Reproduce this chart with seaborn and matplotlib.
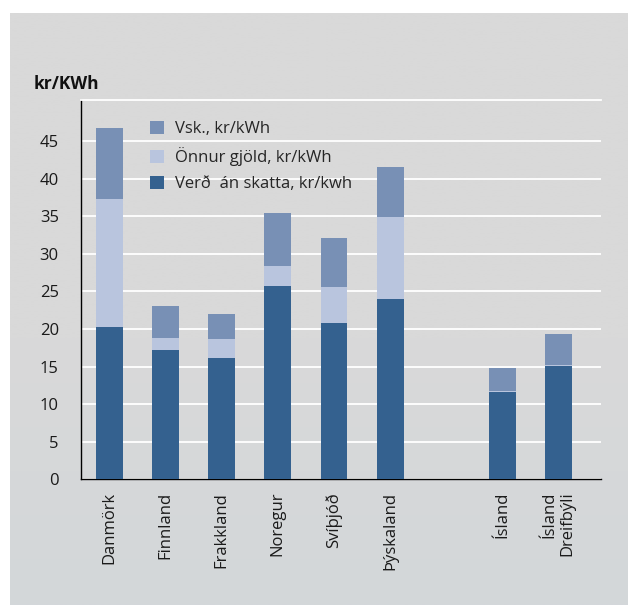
import numpy as np
import pandas as pd
import matplotlib
matplotlib.use("Agg")
import matplotlib.pyplot as plt
from matplotlib.patches import Patch
import seaborn as sns

# Electricity price per kWh, split into base price and taxes
countries = ["Danmörk", "Finnland", "Frakkland", "Noregur", "Svíþjóð",
             "Þýskaland", "", "Ísland", "Ísland\nDreifbýli"]
verd = [20.25, 17.2, 16.13, 25.7, 20.8, 24.0, np.nan, 11.6, 15.1]
onnur = [17.05, 1.6, 2.53, 2.7, 4.8, 10.9, np.nan, 0.15, 0.15]
vsk = [9.4, 4.25, 3.34, 7.0, 6.5, 6.7, np.nan, 3.05, 4.05]
y_ticks = [0, 5, 10, 15, 20, 25, 30, 35, 40, 45]

labels = ["Vsk., kr/kWh", "Önnur gjöld, kr/kWh", "Verð  án skatta, kr/kwh"]
colors = ["#7890b5", "#b9c5de", "#34618f"]

df = pd.DataFrame({"land": countries, "verd": verd, "onnur": onnur, "vsk": vsk})
df["lvl_verd"] = df["verd"]
df["lvl_onnur"] = df["verd"] + df["onnur"]
df["lvl_total"] = df["lvl_onnur"] + df["vsk"]

sns.set_theme(style="white")
plt.rcParams["font.family"] = ["Open Sans", "DejaVu Sans"]

W, H = 628, 605
fig = plt.figure(figsize=(W / 100, H / 100), dpi=100)
fig.patch.set_facecolor("white")

# grey panel behind the chart, slightly lighter towards the bottom
bg = fig.add_axes([10 / W, 0, 1 - 10 / W, (H - 13) / H], zorder=-10)
grad = np.linspace(0, 1, 256)[:, None]
top_c = np.array([0xd9, 0xd9, 0xd9]) / 255
bot_c = np.array([0xd3, 0xd7, 0xda]) / 255
w = np.clip((grad - 0.55) / 0.45, 0, 1)
img = top_c[None, None, :] * (1 - w[..., None]) + bot_c[None, None, :] * w[..., None]
bg.imshow(img, aspect="auto", extent=[0, 1, 0, 1], origin="upper")
bg.set_axis_off()

ax = fig.add_axes([81 / W, (H - 479.3) / H, (601 - 81) / W, (479.3 - 100) / H])
ax.set_facecolor("none")

for col, c in zip(["lvl_total", "lvl_onnur", "lvl_verd"], colors):
    sns.barplot(data=df, x="land", y=col, order=countries, color=c, width=0.48,
                saturation=1, errorbar=None, ax=ax, zorder=3,
                edgecolor="none", linewidth=0)

ax.set_ylim(0, 50.45)
ax.set_xlim(-0.506, 8.755)
ax.set_yticks(y_ticks)
ax.set_yticklabels([str(t) for t in y_ticks])
ax.yaxis.grid(True, color="white", linewidth=1.3, zorder=0)
ax.set_axisbelow(True)
ax.set_xlabel("")
ax.set_ylabel("")

ax.spines["right"].set_visible(False)
ax.spines["top"].set_color("white")
ax.spines["top"].set_linewidth(1.3)
for s in ["left", "bottom"]:
    ax.spines[s].set_color("black")
    ax.spines[s].set_linewidth(1.0)

ax.tick_params(axis="y", length=0, pad=16, labelsize=12, labelcolor="#1a1a1a")
ax.tick_params(axis="x", length=0, pad=9, labelsize=12, labelcolor="#1a1a1a")
for lab in ax.get_xticklabels():
    lab.set_rotation(90)
    lab.set_ha("center")
    lab.set_va("top")
    lab.set_multialignment("right")

fig.text(34 / W, 1 - 84 / H, "kr/KWh", fontsize=12.5, fontweight="bold",
         ha="left", va="center", color="#111111")

handles = [Patch(facecolor=c, edgecolor="none") for c in colors]
ax.legend(handles, labels, loc="upper left", bbox_to_anchor=(150 / W, 1 - 121 / H),
          bbox_transform=fig.transFigure, frameon=False, fontsize=12,
          handlelength=0.81, handleheight=0.81, handletextpad=0.7,
          labelspacing=0.6, borderpad=0, borderaxespad=0)

fig.savefig("out.png", dpi=100, facecolor=fig.get_facecolor())
